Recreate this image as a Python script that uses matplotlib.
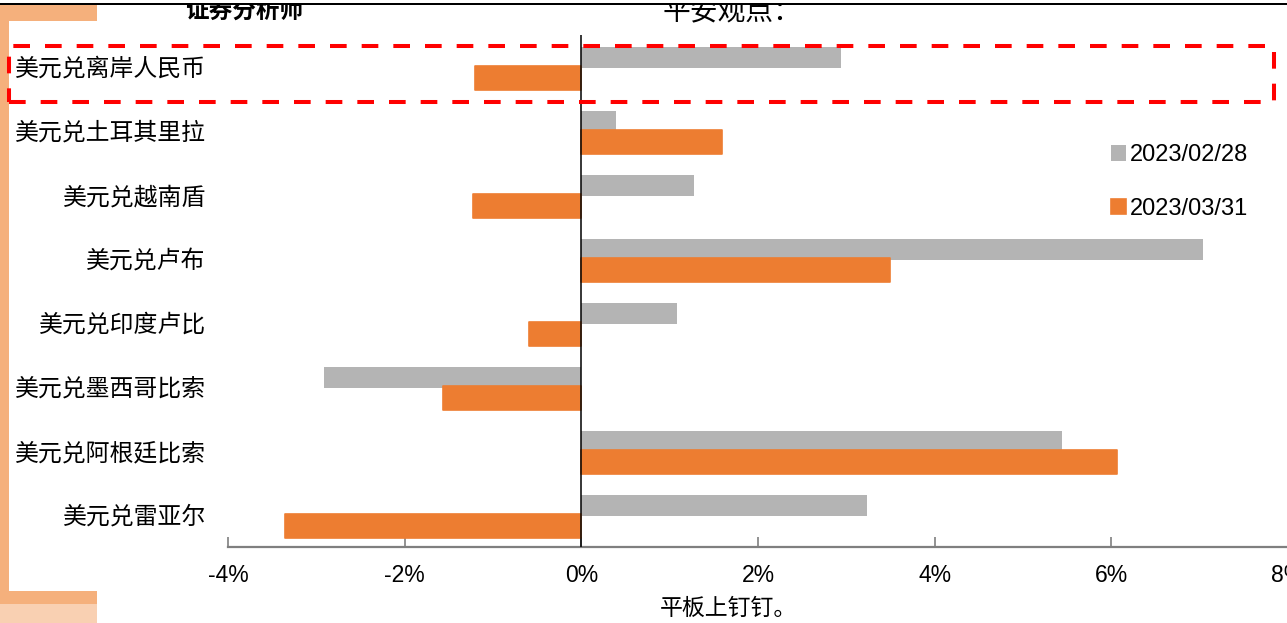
import matplotlib
matplotlib.use("Agg")
import matplotlib.pyplot as plt
from matplotlib.patches import Rectangle
import numpy as np

categories = ["美元兑离岸人民币", "美元兑土耳其里拉", "美元兑越南盾", "美元兑卢布",
              "美元兑印度卢比", "美元兑墨西哥比索", "美元兑阿根廷比索", "美元兑雷亚尔"]
series_feb = [2.94, 0.39, 1.28, 7.04, 1.08, -2.91, 5.44, 3.23]
series_mar = [-1.20, 1.59, -1.23, 3.50, -0.59, -1.57, 6.06, -3.35]
legend_labels = ["2023/02/28", "2023/03/31"]
xticks = [-4, -2, 0, 2, 4, 6, 8]
xtick_labels = ["-4%", "-2%", "0%", "2%", "4%", "6%", "8%"]

GRAY = "#B4B4B4"
ORANGE = "#ED7D31"
BORDER = "#F5B07C"
BORDER_LIGHT = "#F9D0B2"

W, H = 1287, 623
fig = plt.figure(figsize=(W / 100, H / 100), dpi=100)

def fx(px):
    return px / W

def fy(py):
    return 1 - py / H

ax = fig.add_axes([fx(228), fy(547), fx(1288) - fx(228), fy(35) - fy(547)])

y = np.arange(len(categories))
ax.barh(y - 0.15, series_feb, height=0.32, color=GRAY, label=legend_labels[0], zorder=2)
ax.barh(y + 0.17, series_mar, height=0.375, color=ORANGE, edgecolor=ORANGE,
        linewidth=1.2, joinstyle="round", label=legend_labels[1], zorder=3)
ax.axvline(0, color="black", lw=1.1, zorder=4)

ax.set_xlim(-4, 8)
ax.set_ylim(len(categories) - 0.5, -0.5)
ax.set_xticks(xticks)
ax.set_xticklabels(xtick_labels, fontfamily="Liberation Sans", fontsize=16.5)
ax.set_yticks(y)
ax.set_yticklabels(categories, fontfamily=["Noto Sans CJK SC", "DejaVu Sans"], fontsize=17.2)
ax.tick_params(axis="y", length=0, pad=16)
ax.tick_params(axis="x", direction="in", length=7, color="#7f7f7f", width=1.2, pad=12)
for s in ["top", "right", "left"]:
    ax.spines[s].set_visible(False)
ax.spines["bottom"].set_color("#7f7f7f")
ax.spines["bottom"].set_linewidth(1.6)

leg = ax.legend(loc="upper left", bbox_to_anchor=(fx(1111), fy(144)),
                bbox_transform=fig.transFigure, frameon=False,
                prop={"family": "Liberation Sans", "size": 17},
                handlelength=0.65, handleheight=0.65, handletextpad=0.15,
                labelspacing=1.35, borderpad=0, borderaxespad=0)

# decorative fragments around the chart
fig.text(fx(185), fy(11), "证券分析师", fontsize=17, fontweight="bold",
         family=["Noto Sans CJK SC", "DejaVu Sans"], ha="left", va="center")
fig.text(fx(663), fy(12), "平安观点：", fontsize=20,
         family=["Noto Sans CJK SC", "DejaVu Sans"], ha="left", va="center")
fig.text(fx(660), fy(608), "平板上钉钉。", fontsize=16.5,
         family=["Noto Sans CJK SC", "DejaVu Sans"], ha="left", va="center")

# mask above top line
fig.patches.append(Rectangle((0, fy(3)), 1, fy(0) - fy(3), transform=fig.transFigure,
                             facecolor="white", edgecolor="none", zorder=10))
# top black line
fig.patches.append(Rectangle((0, fy(5)), 1, fy(3) - fy(5), transform=fig.transFigure,
                             facecolor="black", edgecolor="none", zorder=11))
# orange border pieces
fig.patches.append(Rectangle((0, fy(21)), fx(97), fy(5) - fy(21), transform=fig.transFigure,
                             facecolor=BORDER, edgecolor="none", zorder=9))
fig.patches.append(Rectangle((0, fy(604)), fx(8.7), fy(5) - fy(604), transform=fig.transFigure,
                             facecolor=BORDER, edgecolor="none", zorder=9))
fig.patches.append(Rectangle((0, fy(604)), fx(97), fy(591) - fy(604), transform=fig.transFigure,
                             facecolor=BORDER, edgecolor="none", zorder=9))
fig.patches.append(Rectangle((0, fy(623)), fx(97), fy(604) - fy(623), transform=fig.transFigure,
                             facecolor=BORDER_LIGHT, edgecolor="none", zorder=9))

# red dashed highlight box
lw = 2.9
fig.patches.append(Rectangle((fx(9), fy(102)), fx(1274) - fx(9), fy(46) - fy(102),
                             transform=fig.transFigure, facecolor="none", edgecolor="#FF0000",
                             linewidth=lw, linestyle=(0, (12 / lw, 10.8 / lw)),
                             capstyle="butt", zorder=12))

fig.savefig("out.png", dpi=100)
